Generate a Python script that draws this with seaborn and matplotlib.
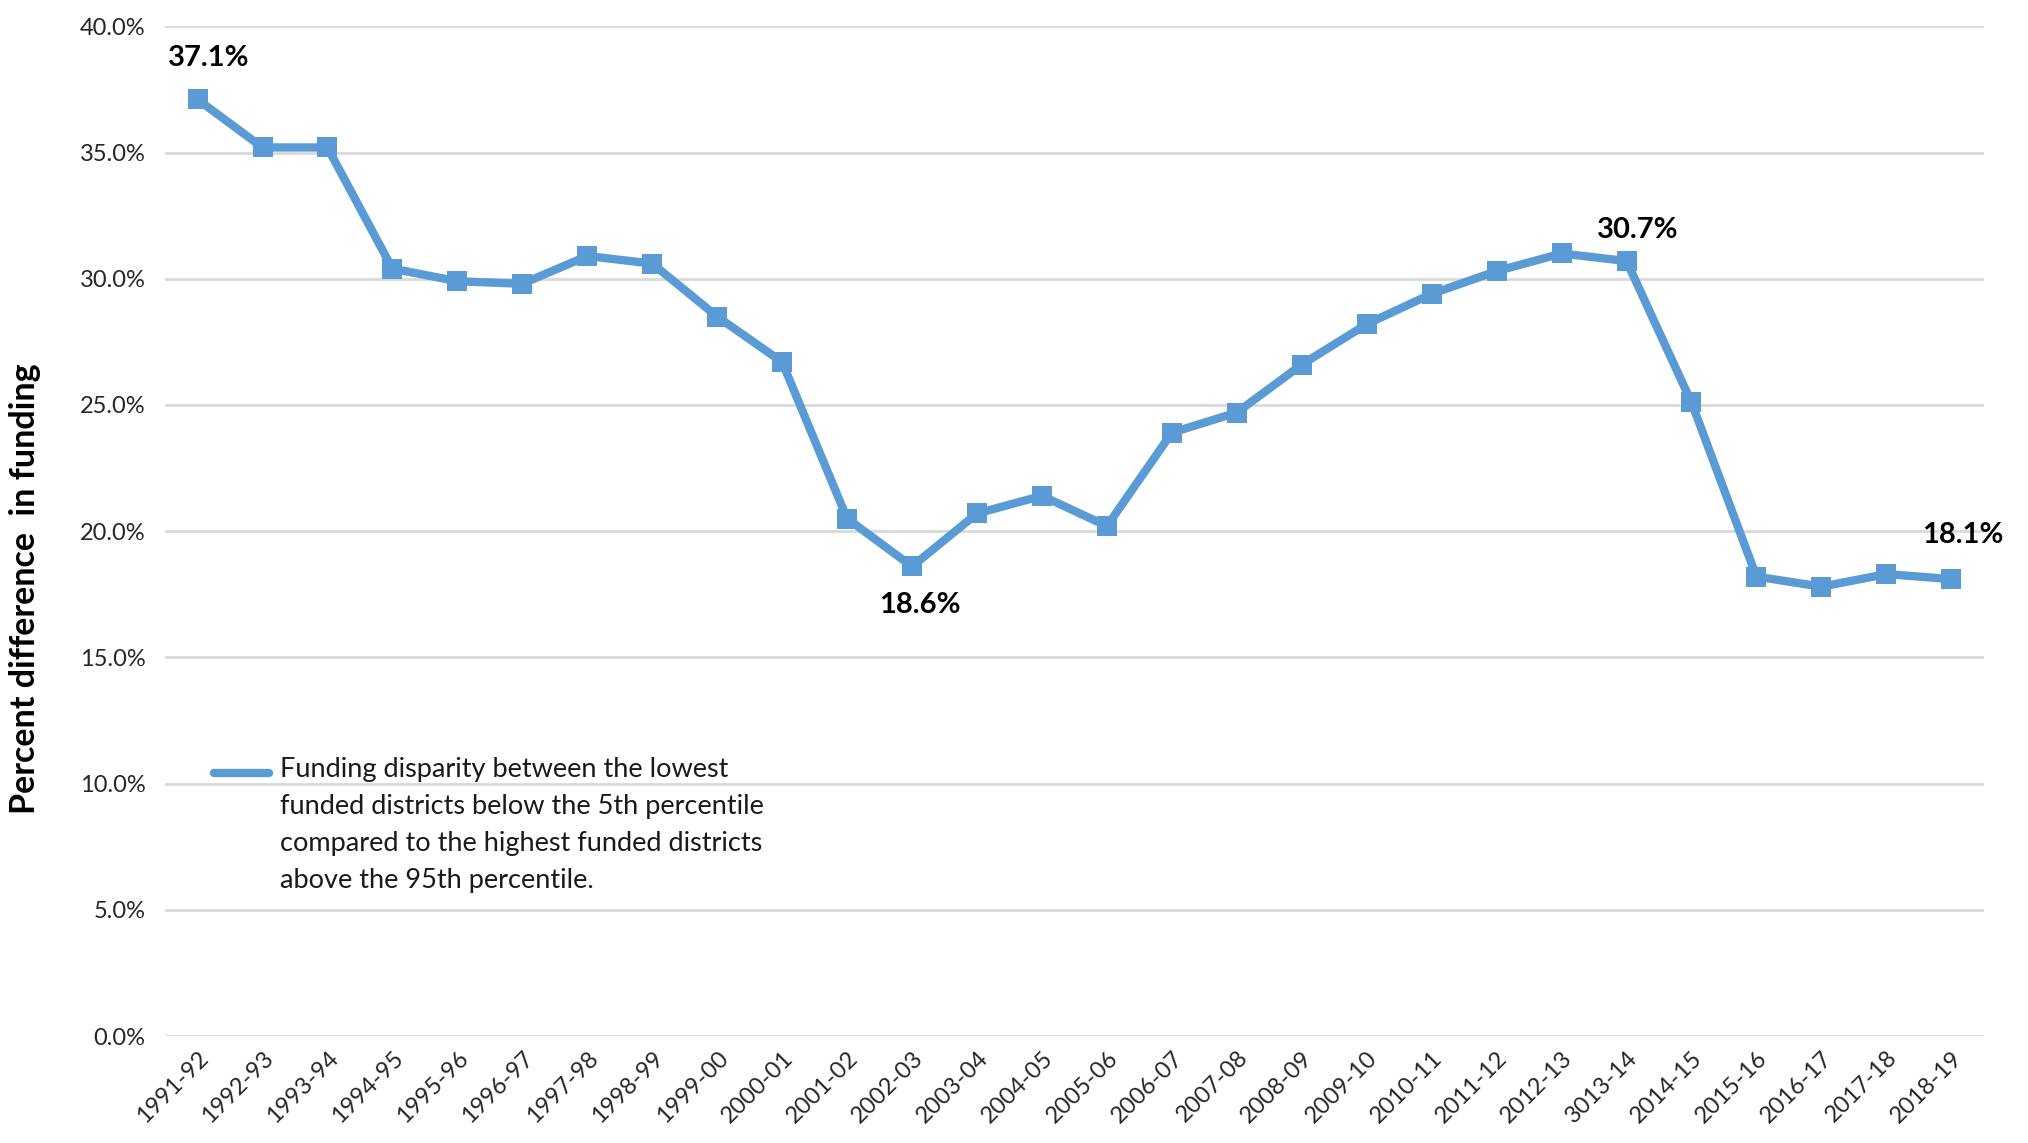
import matplotlib
matplotlib.use("Agg")
import matplotlib.pyplot as plt
import seaborn as sns
import pandas as pd
from matplotlib.ticker import FuncFormatter, MultipleLocator
from matplotlib.legend_handler import HandlerLine2D

years = ["1991-92", "1992-93", "1993-94", "1994-95", "1995-96", "1996-97", "1997-98",
         "1998-99", "1999-00", "2000-01", "2001-02", "2002-03", "2003-04", "2004-05",
         "2005-06", "2006-07", "2007-08", "2008-09", "2009-10", "2010-11", "2011-12",
         "2012-13", "3013-14", "2014-15", "2015-16", "2016-17", "2017-18", "2018-19"]
disparity = [37.1, 35.2, 35.2, 30.4, 29.9, 29.8, 30.9, 30.6, 28.5, 26.7, 20.5, 18.6,
             20.7, 21.4, 20.2, 23.9, 24.7, 26.6, 28.2, 29.4, 30.3, 31.0, 30.7, 25.1,
             18.2, 17.8, 18.3, 18.1]
series_label = ("Funding disparity between the lowest\nfunded districts below the 5th percentile\n"
                "compared to the highest funded districts\nabove the 95th percentile.")
annotated = {"1991-92": (8, 30), "2002-03": (6, -28),
             "3013-14": (8, 22), "2018-19": (8, 32)}


class TopAlignedLine(HandlerLine2D):
    """Legend handle aligned with the first line of a multi-line label."""
    shift = 38

    def create_artists(self, legend, orig_handle, xdescent, ydescent, width, height,
                       fontsize, trans):
        artists = super().create_artists(legend, orig_handle, xdescent, ydescent,
                                         width, height, fontsize, trans)
        for a in artists:
            yd = a.get_ydata()
            a.set_ydata([y + self.shift for y in yd])
        return artists


sns.set_theme(style="white")
plt.rcParams["font.family"] = ["Lato", "DejaVu Sans"]

df = pd.DataFrame({"year": years, "value": disparity})

fig = plt.figure(figsize=(20.28, 11.43), dpi=100)
ax = fig.add_axes([0.0814, 0.0936, 0.8968, 0.8834])
color = "#5B9BD5"
sns.lineplot(data=df, x="year", y="value", ax=ax, color=color, linewidth=6,
             marker="s", markersize=15, markeredgewidth=0, label=series_label, sort=False)

ax.set_ylim(0, 40)
ax.set_xlim(-0.5, len(years) - 0.5)
ax.yaxis.set_major_locator(MultipleLocator(5))
ax.yaxis.set_major_formatter(FuncFormatter(lambda v, p: f"{v:.1f}%"))
ax.grid(axis="y", color="#D9D9D9", linewidth=2)
ax.set_axisbelow(True)
for s in ax.spines.values():
    s.set_visible(False)
ax.tick_params(axis="both", length=0, labelsize=17, colors="#262626")
ax.tick_params(axis="y", pad=14)
ax.tick_params(axis="x", pad=8)
plt.setp(ax.get_xticklabels(), rotation=45, ha="right", rotation_mode="anchor")

ax.set_xlabel("")
ax.set_ylabel("Percent difference  in funding", fontsize=24.5, fontweight="bold", color="black")
ax.yaxis.set_label_coords(-0.068, 0.443)

for yr, val in zip(years, disparity):
    if yr in annotated:
        dx, dy = annotated[yr]
        ax.annotate(f"{val:.1f}%", xy=(years.index(yr), val), xytext=(dx, dy),
                    textcoords="offset points", ha="center", va="center",
                    fontsize=21, fontweight="bold", color="black")

handles, labels = ax.get_legend_handles_labels()
leg = ax.legend(handles, labels, loc="center left", bbox_to_anchor=(0.0137, 0.209),
                frameon=False, fontsize=19.5, handlelength=2.0, handletextpad=0.43,
                handler_map={handles[0]: TopAlignedLine()})
for h in leg.legend_handles:
    h.set_marker("")
    h.set_linewidth(6)
for t in leg.get_texts():
    t.set_linespacing(1.6)
    t.set_color("#1a1a1a")

fig.savefig("out.png", dpi=100)
